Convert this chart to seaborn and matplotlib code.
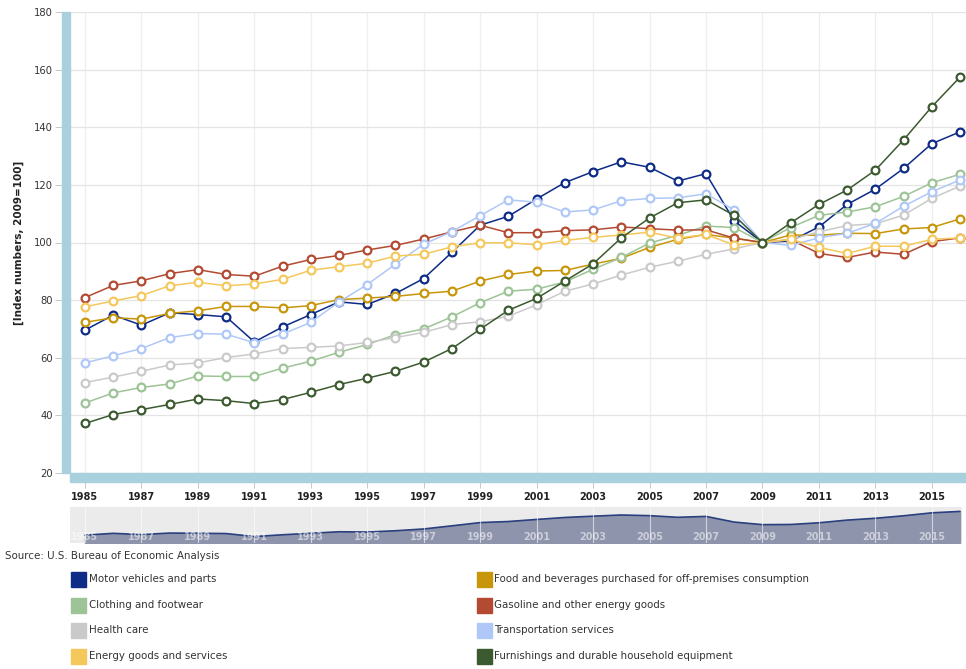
import matplotlib
matplotlib.use("Agg")
import matplotlib.pyplot as plt
from matplotlib.patches import Rectangle
import seaborn as sns
import pandas as pd

# ---- data: price indexes, 2009 = 100 ----
years = list(range(1985, 2017))

motor_vehicles = [69.6, 74.8, 71.3, 75.6, 75.0, 74.2, 65.5, 70.7, 75.0, 79.4,
                  78.5, 82.3, 87.5, 96.6, 106.0, 109.1, 115.1, 120.8, 124.6, 128.0,
                  126.1, 121.3, 123.9, 107.5, 100.0, 100.5, 105.4, 113.2, 118.5, 125.7,
                  134.3, 138.4]
food_beverages = [72.3, 73.9, 73.4, 75.4, 76.3, 77.8, 77.8, 77.3, 78.1, 80.2,
                  80.7, 81.3, 82.3, 83.1, 86.6, 88.9, 90.1, 90.3, 92.5, 94.5,
                  98.3, 101.1, 102.8, 101.5, 100.0, 102.6, 102.5, 103.2, 103.1, 104.7,
                  105.2, 108.2]
clothing = [44.3, 47.8, 49.7, 50.9, 53.7, 53.5, 53.5, 56.4, 58.8, 61.9,
            64.6, 68.0, 70.0, 74.2, 79.1, 83.1, 83.8, 86.3, 90.7, 94.8,
            99.8, 102.5, 105.7, 105.2, 100.0, 105.2, 109.4, 110.6, 112.4, 116.0,
            120.7, 123.7]
gasoline = [80.9, 85.1, 86.7, 89.2, 90.6, 88.9, 88.3, 91.8, 94.1, 95.5,
            97.4, 99.0, 101.2, 103.7, 106.0, 103.4, 103.4, 104.1, 104.4, 105.4,
            104.8, 104.3, 104.4, 101.5, 100.0, 101.0, 96.2, 94.8, 96.7, 95.9,
            100.3, 101.6]
health_care = [51.4, 53.3, 55.3, 57.5, 58.2, 60.1, 61.3, 63.2, 63.6, 64.1,
               65.3, 67.0, 68.8, 71.5, 72.5, 74.4, 78.4, 83.1, 85.6, 88.7,
               91.4, 93.5, 95.9, 97.8, 100.0, 101.0, 103.7, 105.9, 106.5, 109.5,
               115.3, 119.6]
transportation = [58.2, 60.7, 63.2, 67.0, 68.4, 68.2, 65.2, 68.2, 72.3, 79.4,
                  85.4, 92.5, 99.4, 103.8, 109.3, 114.8, 114.0, 110.6, 111.3, 114.5,
                  115.3, 115.5, 116.9, 111.3, 100.0, 99.0, 101.6, 103.2, 106.6, 112.6,
                  117.6, 121.7]
energy = [77.7, 79.7, 81.6, 85.0, 86.2, 85.0, 85.6, 87.2, 90.4, 91.6,
          92.8, 95.3, 95.9, 98.5, 99.9, 99.9, 99.2, 100.7, 101.8, 102.6,
          103.6, 101.5, 102.8, 99.1, 100.0, 101.1, 98.3, 96.2, 98.7, 98.7,
          101.1, 101.6]
furnishings = [37.2, 40.3, 42.0, 43.8, 45.7, 45.1, 44.1, 45.5, 48.0, 50.7,
               52.9, 55.3, 58.5, 63.2, 69.9, 76.5, 80.6, 86.6, 92.6, 101.6,
               108.5, 113.8, 114.8, 109.4, 100.0, 106.8, 113.2, 118.2, 125.1, 135.6,
               147.1, 157.4]

series_names = [
    "Motor vehicles and parts",
    "Food and beverages purchased for off-premises consumption",
    "Clothing and footwear",
    "Gasoline and other energy goods",
    "Health care",
    "Transportation services",
    "Energy goods and services",
    "Furnishings and durable household equipment",
]
series_values = [motor_vehicles, food_beverages, clothing, gasoline,
                 health_care, transportation, energy, furnishings]
series_colors = ["#0D2B87", "#C8960A", "#9DC496", "#B34A31",
                 "#CACACA", "#AFC8F7", "#F5C85C", "#3C5A30"]

tick_years = list(range(1985, 2016, 2))
y_ticks = list(range(20, 181, 20))

df = pd.DataFrame(
    [(y, name, v) for name, vals in zip(series_names, series_values)
     for y, v in zip(years, vals)],
    columns=["year", "series", "index"],
)

# ---- figure & layout (pixel based) ----
W, H = 966, 669
sns.set_theme(style="white")
plt.rcParams["font.family"] = ["DejaVu Sans"]
fig = plt.figure(figsize=(W / 100, H / 100), dpi=100)

def fx(px):
    return px / W

def fy(py):
    return 1 - py / H

px_per_year = (960 - 85) / 31.0
x0 = 1985 - (85 - 70) / px_per_year

ax = fig.add_axes([fx(70), fy(473), fx(896), 461 / H])
ax.set_xlim(x0, x0 + 896 / px_per_year)
ax.set_ylim(20, 180)

for name, color in zip(series_names, series_colors):
    sub = df[df["series"] == name]
    sns.lineplot(data=sub, x="year", y="index", ax=ax, color=color,
                 linewidth=1.1, marker="o", markersize=5.6,
                 markerfacecolor="white", markeredgecolor=color,
                 markeredgewidth=1.6, legend=False)

ax.set_xticks(tick_years)
ax.set_xticklabels([str(t) for t in tick_years], fontsize=7, fontweight="bold",
                   color="#222222")
ax.set_yticks(y_ticks)
ax.set_yticklabels([str(t) for t in y_ticks], fontsize=7.2, color="#333333")
ax.grid(axis="y", color="#E4E4E4", linewidth=0.9)
ax.grid(axis="x", color="#EEEEEE", linewidth=0.9)
ax.set_axisbelow(True)
for s in ax.spines.values():
    s.set_visible(False)
ax.tick_params(axis="y", left=True, length=10.5, width=0.7, color="#C8C8C8", pad=2)
ax.tick_params(axis="x", bottom=True, length=10.5, width=0.7, color="#C8C8C8", pad=3)
ax.set_xlabel("")
ax.set_ylabel("[Index numbers, 2009=100]", fontsize=7.5, fontweight="bold",
              color="#222222", labelpad=7)

# thick axis bars
bar_color = "#A9D0DD"
fig.add_artist(Rectangle((fx(62), fy(473)), fx(8), 461 / H,
                         transform=fig.transFigure, color=bar_color, zorder=5))
fig.add_artist(Rectangle((fx(70), fy(482)), fx(896), 9 / H,
                         transform=fig.transFigure, color=bar_color, zorder=5))

# ---- navigator strip ----
nav = fig.add_axes([fx(70), fy(543), fx(892), 36 / H])
nav.set_facecolor("#EBEBEB")
nav.set_xlim(x0, x0 + 892 / px_per_year)
nav.set_ylim(46.8, 151.2)
nav.fill_between(years, motor_vehicles, 0, color="#8D94AC", zorder=1)
sns.lineplot(x=years, y=motor_vehicles, ax=nav, color="#2A3F7E",
             linewidth=1.2, legend=False, zorder=2)
for t in tick_years:
    nav.axvline(t, color="white", linewidth=0.8, alpha=0.6, zorder=3)
    nav.text(t, 64, str(t), ha="center", va="center", fontsize=7,
             fontweight="bold", color="white", alpha=0.55, zorder=4)
nav.set_xticks([])
nav.set_yticks([])
nav.set_xlabel("")
nav.set_ylabel("")
for s in nav.spines.values():
    s.set_visible(False)

# ---- source note ----
fig.text(fx(5), fy(556), "Source: U.S. Bureau of Economic Analysis",
         fontsize=7.4, color="#333333", va="center", ha="left")

# ---- legend ----
legend_cols = [(71, 89), (477, 494)]
legend_rows = [579, 605, 630, 656]
for i, (name, color) in enumerate(zip(series_names, series_colors)):
    col, row = i % 2, i // 2
    sx, tx = legend_cols[col]
    cy = legend_rows[row]
    fig.add_artist(Rectangle((fx(sx), fy(cy + 7.5)), fx(15), 15 / H,
                             transform=fig.transFigure, color=color))
    fig.text(fx(tx), fy(cy), name, fontsize=7.4, color="#333333",
             va="center", ha="left")

fig.savefig("out.png", dpi=100)
